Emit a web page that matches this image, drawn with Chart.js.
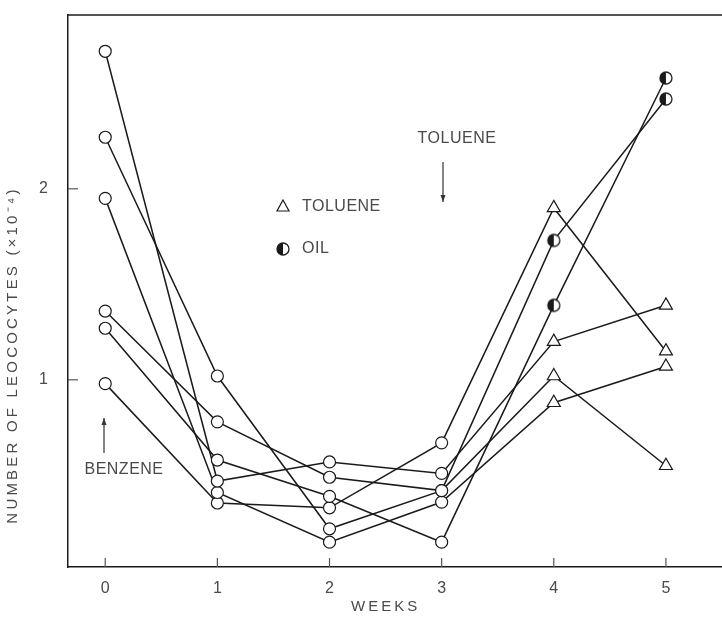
<!DOCTYPE html>
<html>
<head>
<meta charset="utf-8">
<script src="https://cdn.jsdelivr.net/npm/chart.js@4.4.1/dist/chart.umd.min.js"></script>
<style>
  html, body { margin: 0; padding: 0; background: #fff; overflow: hidden; }
  #wrap { width: 722px; height: 618px; position: relative; }
</style>
</head>
<body>
<div id="wrap"><canvas id="leucoChart"></canvas></div>
<script>
// weeks after start of exposure
const weeks = [0, 1, 2, 3, 4, 5];
const xTicks = [0, 1, 2, 3, 4, 5];
const yTicks = [1, 2];

// leucocyte counts (x10^-4), one array per animal
const animalA = [2.27, 1.02, 0.22, 0.42, 1.02, 0.55];
const animalB = [1.36, 0.78, 0.49, 0.42, 1.73, 2.47];
const animalC = [1.27, 0.58, 0.39, 0.15, 1.39, 2.58];
const animalD = [2.72, 0.47, 0.57, 0.51, 1.20, 1.39];
const animalE = [1.95, 0.41, 0.15, 0.36, 0.88, 1.07];
const animalF = [0.98, 0.355, 0.33, 0.67, 1.90, 1.15];

// treatment given from week 4 on
const animals = [animalA, animalB, animalC, animalD, animalE, animalF];
const treatments = ['toluene', 'oil', 'oil', 'toluene', 'toluene', 'toluene'];
const firstTreatedWeek = 4;

const INK = '#1a1a1a';
const TEXT = '#4a4a4a';
const FONT = '"Liberation Sans", Arial, sans-serif';

// half filled circle used for the oil points
function halfCircle(r) {
    const c = document.createElement('canvas');
    const s = Math.ceil(r * 2 + 4);
    c.width = s; c.height = s;
    const g = c.getContext('2d');
    const m = s / 2;
    g.fillStyle = '#fff';
    g.beginPath(); g.arc(m, m, r, 0, Math.PI * 2); g.fill();
    g.fillStyle = INK;
    g.beginPath(); g.arc(m, m, r, Math.PI / 2, Math.PI * 1.5); g.closePath(); g.fill();
    g.strokeStyle = INK; g.lineWidth = 1.3;
    g.beginPath(); g.arc(m, m, r, 0, Math.PI * 2); g.stroke();
    return c;
}
const oilMark = halfCircle(6);

function styleFor(treatment, week) {
    if (week < firstTreatedWeek) return 'circle';
    return treatment === 'oil' ? oilMark : 'triangle';
}

const datasets = animals.map((vals, i) => ({
    data: vals.map((v, k) => ({ x: weeks[k], y: v })),
    borderColor: INK,
    borderWidth: 1.5,
    tension: 0,
    pointStyle: weeks.map(w => styleFor(treatments[i], w)),
    pointRadius: weeks.map(w => (w >= firstTreatedWeek && treatments[i] !== 'oil') ? 7.5 : 6),
    pointBackgroundColor: '#fff',
    pointBorderColor: INK,
    pointBorderWidth: 1.2
}));

const decorations = {
    id: 'decorations',
    afterDraw(chart) {
        const { ctx, chartArea: a, scales: { x, y } } = chart;
        ctx.save();

        // frame top
        ctx.strokeStyle = INK;
        ctx.lineWidth = 1.5;
        ctx.beginPath();
        ctx.moveTo(a.left, a.top);
        ctx.lineTo(a.right, a.top);
        ctx.stroke();

        // inward ticks
        ctx.lineWidth = 1.2;
        ctx.strokeStyle = '#555';
        xTicks.forEach(v => {
            const px = x.getPixelForValue(v);
            ctx.beginPath(); ctx.moveTo(px, a.bottom); ctx.lineTo(px, a.bottom - 9); ctx.stroke();
        });
        yTicks.forEach(v => {
            const py = y.getPixelForValue(v);
            ctx.beginPath(); ctx.moveTo(a.left, py); ctx.lineTo(a.left + 10, py); ctx.stroke();
        });

        // axis titles
        ctx.fillStyle = TEXT;
        ctx.textBaseline = 'middle';
        ctx.textAlign = 'center';
        ctx.font = `15px ${FONT}`;
        ctx.letterSpacing = '3px';
        ctx.fillText('WEEKS', x.getPixelForValue(2.5), 607);

        ctx.save();
        ctx.translate(13, y.getPixelForValue(1.13));
        ctx.rotate(-Math.PI / 2);
        ctx.font = `15px ${FONT}`;
        ctx.letterSpacing = '3.2px';
        ctx.fillText('NUMBER OF LEOCOCYTES (\u00d710\u207b\u2074)', 0, 0);
        ctx.restore();

        // TOLUENE note with arrow down
        ctx.letterSpacing = '0.5px';
        ctx.font = `16px ${FONT}`;
        ctx.fillText('TOLUENE', 457, 139);
        arrow(ctx, 443, 162, 443, 202);

        // BENZENE note with arrow up
        ctx.fillText('BENZENE', 124, 470);
        arrow(ctx, 104, 453, 104, 418);

        // key
        ctx.textAlign = 'left';
        ctx.strokeStyle = INK;
        ctx.lineWidth = 1.2;
        ctx.beginPath();
        ctx.moveTo(283, 200); ctx.lineTo(289, 211); ctx.lineTo(277, 211); ctx.closePath();
        ctx.stroke();
        ctx.fillText('TOLUENE', 302, 207);
        ctx.drawImage(oilMark, 283 - oilMark.width / 2, 249 - oilMark.height / 2);
        ctx.fillText('OIL', 302, 249);

        ctx.restore();
    }
};

function arrow(ctx, x1, y1, x2, y2) {
    ctx.save();
    ctx.strokeStyle = '#333';
    ctx.fillStyle = '#333';
    ctx.lineWidth = 1.2;
    ctx.beginPath(); ctx.moveTo(x1, y1); ctx.lineTo(x2, y2); ctx.stroke();
    const dir = Math.sign(y2 - y1);
    ctx.beginPath();
    ctx.moveTo(x2, y2);
    ctx.lineTo(x2 - 2.5, y2 - dir * 7);
    ctx.lineTo(x2 + 2.5, y2 - dir * 7);
    ctx.closePath();
    ctx.fill();
    ctx.restore();
}

new Chart(document.getElementById('leucoChart'), {
    type: 'line',
    data: { datasets },
    plugins: [decorations],
    options: {
        responsive: true,
        maintainAspectRatio: false,
        animation: false,
        layout: { autoPadding: false, padding: { top: 15, right: 0, left: 0, bottom: 0 } },
        plugins: { legend: { display: false }, tooltip: { enabled: false } },
        scales: {
            x: {
                type: 'linear',
                min: -0.332,
                max: 5.5,
                afterBuildTicks: s => { s.ticks = xTicks.map(v => ({ value: v })); },
                afterFit: s => { s.height = 51; s.paddingLeft = 0; s.paddingRight = 0; },
                grid: { display: false },
                border: { display: true, color: INK, width: 1.5 },
                ticks: { color: TEXT, padding: 4, font: { family: FONT, size: 16 }, maxRotation: 0 }
            },
            y: {
                min: 0.02,
                max: 2.91,
                afterBuildTicks: s => { s.ticks = yTicks.map(v => ({ value: v })); },
                afterFit: s => { s.width = 68; s.paddingTop = 0; s.paddingBottom = 0; },
                grid: { display: false },
                border: { display: true, color: INK, width: 1.5 },
                ticks: { color: TEXT, padding: 12, font: { family: FONT, size: 16 } }
            }
        }
    }
});
</script>
</body>
</html>
